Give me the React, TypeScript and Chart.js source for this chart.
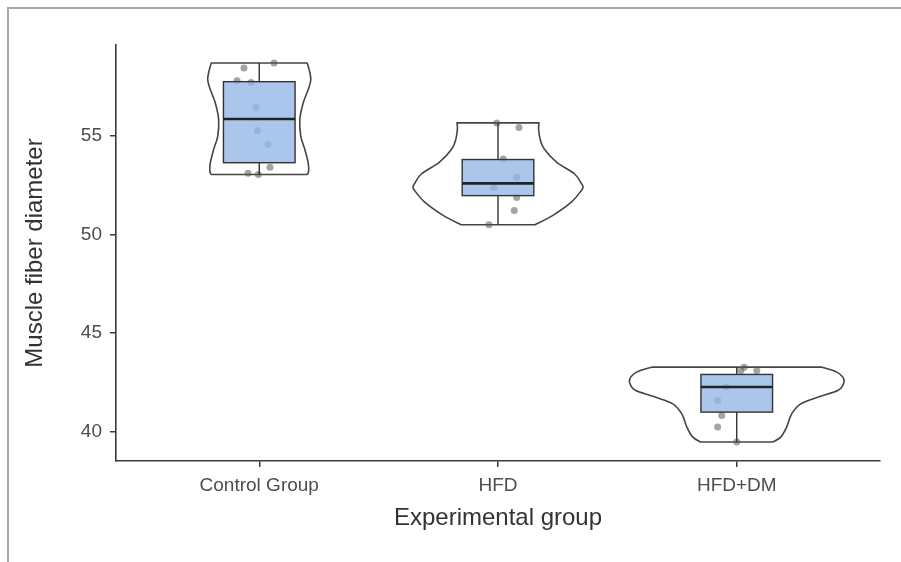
import { useEffect, useRef } from "react";
import { Chart, registerables } from "chart.js";

Chart.register(...registerables);

const groups = ["Control Group", "HFD", "HFD+DM"];
const yTicks = [40, 45, 50, 55];

// Individual measurements per group and their horizontal jitter (category units)
const controlValues = [58.69, 58.43, 57.79, 57.7, 56.44, 55.25, 54.55, 53.4, 53.1, 53.03];
const controlJitter = [0.062, -0.064, -0.093, -0.034, -0.013, -0.008, 0.037, 0.045, -0.047, -0.004];
const hfdValues = [55.65, 55.42, 53.82, 52.89, 52.38, 51.87, 51.2, 50.48];
const hfdJitter = [-0.005, 0.088, 0.022, 0.078, -0.017, 0.078, 0.068, -0.038];
const hfdDmValues = [43.26, 43.09, 43.09, 42.25, 41.57, 40.81, 40.22, 39.46];
const hfdDmJitter = [0.031, 0.017, 0.084, -0.045, -0.08, -0.063, -0.08, 0.0];

// Box summaries: lower whisker, Q1, median, Q3, upper whisker
const whiskerLow = [53.03, 50.48, 39.46];
const quartile1 = [53.63, 51.96, 40.98];
const medians = [55.85, 52.58, 42.25];
const quartile3 = [57.74, 53.79, 42.89];
const whiskerHigh = [58.69, 55.65, 43.26];

// Violin outlines: heights (top to bottom) and half-widths in category units
const controlViolinY = [58.69, 58.35, 57.85, 57.34, 56.66, 55.82, 54.97, 54.3, 53.62, 53.2, 53.03];
const controlViolinW = [0.201, 0.209, 0.216, 0.205, 0.184, 0.17, 0.174, 0.191, 0.205, 0.207, 0.201];
const hfdViolinY = [55.65, 55.35, 54.85, 54.34, 53.66, 53.07, 52.56, 52.4, 52.23, 51.63, 50.96, 50.48];
const hfdViolinW = [0.172, 0.17, 0.176, 0.193, 0.245, 0.32, 0.35, 0.356, 0.35, 0.307, 0.23, 0.155];
const hfdDmViolinY = [43.26, 43.01, 42.67, 42.33, 42.08, 41.77, 41.4, 40.89, 40.22, 39.71, 39.46];
const hfdDmViolinW = [0.356, 0.419, 0.448, 0.444, 0.423, 0.348, 0.268, 0.23, 0.209, 0.184, 0.151];

const violins = [
  { y: controlViolinY, w: controlViolinW },
  { y: hfdViolinY, w: hfdViolinW },
  { y: hfdDmViolinY, w: hfdDmViolinW },
];

const BOX_HALF = 0.15;
const FONT = "'Liberation Sans', Arial, sans-serif";

type Pt = { x: number; y: number };

// Smooth Catmull-Rom curve through pixel points (assumes the pen is at pts[0])
function splineThrough(ctx: CanvasRenderingContext2D, pts: Pt[]) {
  for (let i = 0; i < pts.length - 1; i++) {
    const p0 = pts[Math.max(i - 1, 0)];
    const p1 = pts[i];
    const p2 = pts[i + 1];
    const p3 = pts[Math.min(i + 2, pts.length - 1)];
    ctx.bezierCurveTo(
      p1.x + (p2.x - p0.x) / 6,
      p1.y + (p2.y - p0.y) / 6,
      p2.x - (p3.x - p1.x) / 6,
      p2.y - (p3.y - p1.y) / 6,
      p2.x,
      p2.y
    );
  }
}

const framePlugin = {
  id: "frame",
  beforeDraw(chart: any) {
    const ctx = chart.ctx as CanvasRenderingContext2D;
    ctx.save();
    ctx.strokeStyle = "#a9a9a9";
    ctx.lineWidth = 2;
    ctx.beginPath();
    ctx.moveTo(8, 562);
    ctx.lineTo(8, 8);
    ctx.lineTo(901, 8);
    ctx.stroke();
    ctx.restore();
  },
};

const violinPlugin = {
  id: "violins",
  beforeDatasetsDraw(chart: any) {
    const ctx = chart.ctx as CanvasRenderingContext2D;
    const xs = chart.scales.x;
    const ys = chart.scales.y;
    ctx.save();
    ctx.strokeStyle = "#454545";
    ctx.lineWidth = 1.6;
    ctx.lineJoin = "round";
    violins.forEach((v, i) => {
      const right: Pt[] = v.y.map((val, k) => ({
        x: xs.getPixelForValue(i + v.w[k]),
        y: ys.getPixelForValue(val),
      }));
      const left: Pt[] = v.y
        .map((val, k) => ({ x: xs.getPixelForValue(i - v.w[k]), y: ys.getPixelForValue(val) }))
        .reverse();
      ctx.beginPath();
      ctx.moveTo(left[left.length - 1].x, left[left.length - 1].y);
      ctx.lineTo(right[0].x, right[0].y);
      splineThrough(ctx, right);
      ctx.lineTo(left[0].x, left[0].y);
      splineThrough(ctx, left);
      ctx.closePath();
      ctx.stroke();
    });
    ctx.restore();
  },
  afterDatasetsDraw(chart: any) {
    const ctx = chart.ctx as CanvasRenderingContext2D;
    const xs = chart.scales.x;
    const ys = chart.scales.y;
    ctx.save();
    groups.forEach((_, i) => {
      const cx = xs.getPixelForValue(i);
      const x0 = xs.getPixelForValue(i - BOX_HALF);
      const x1 = xs.getPixelForValue(i + BOX_HALF);
      const yLo = ys.getPixelForValue(whiskerLow[i]);
      const yQ1 = ys.getPixelForValue(quartile1[i]);
      const yMed = ys.getPixelForValue(medians[i]);
      const yQ3 = ys.getPixelForValue(quartile3[i]);
      const yHi = ys.getPixelForValue(whiskerHigh[i]);

      ctx.strokeStyle = "#333333";
      ctx.lineWidth = 1.4;
      ctx.beginPath();
      ctx.moveTo(cx, yQ3);
      ctx.lineTo(cx, yHi);
      ctx.moveTo(cx, yQ1);
      ctx.lineTo(cx, yLo);
      ctx.stroke();

      ctx.fillStyle = "rgba(149,185,230,0.8)";
      ctx.fillRect(x0, yQ3, x1 - x0, yQ1 - yQ3);
      ctx.strokeRect(x0, yQ3, x1 - x0, yQ1 - yQ3);

      ctx.strokeStyle = "#222222";
      ctx.lineWidth = 2.6;
      ctx.beginPath();
      ctx.moveTo(x0, yMed);
      ctx.lineTo(x1, yMed);
      ctx.stroke();
    });
    ctx.restore();
  },
};

export default function App() {
  const canvasRef = useRef<HTMLCanvasElement | null>(null);

  useEffect(() => {
    if (!canvasRef.current) return;
    const points = [
      ...controlValues.map((v, k) => ({ x: 0 + controlJitter[k], y: v })),
      ...hfdValues.map((v, k) => ({ x: 1 + hfdJitter[k], y: v })),
      ...hfdDmValues.map((v, k) => ({ x: 2 + hfdDmJitter[k], y: v })),
    ];

    const chart = new Chart(canvasRef.current, {
      type: "scatter",
      data: {
        datasets: [
          {
            data: points,
            pointRadius: 3.5,
            pointBackgroundColor: "rgba(90,90,90,0.55)",
            pointBorderWidth: 0,
            pointHoverRadius: 3.5,
          },
        ],
      },
      plugins: [framePlugin, violinPlugin],
      options: {
        responsive: false,
        animation: false,
        events: [],
        layout: { padding: { top: 45, right: 21, bottom: 0, left: 0 } },
        plugins: { legend: { display: false }, tooltip: { enabled: false } },
        scales: {
          x: {
            type: "linear",
            min: -0.6,
            max: 2.6,
            afterBuildTicks: (scale: any) => {
              scale.ticks = groups.map((_, i) => ({ value: i }));
            },
            afterFit: (scale: any) => {
              scale.height = 101;
            },
            ticks: {
              callback: (value: any) => groups[Number(value)] ?? "",
              font: { family: FONT, size: 19 },
              color: "#4d4d4d",
              padding: 7,
              maxRotation: 0,
              autoSkip: false,
            },
            grid: { drawOnChartArea: false, drawTicks: true, tickLength: 6, color: "#3a3a3a", lineWidth: 1.5 },
            border: { display: true, color: "#3a3a3a", width: 1.6 },
            title: {
              display: true,
              text: "Experimental group",
              font: { family: FONT, size: 24 },
              color: "#333333",
              padding: { top: 0, bottom: 29 },
            },
          },
          y: {
            type: "linear",
            min: 38.5,
            max: 59.6,
            afterBuildTicks: (scale: any) => {
              scale.ticks = yTicks.map((v) => ({ value: v }));
            },
            afterFit: (scale: any) => {
              scale.width = 116;
            },
            ticks: {
              font: { family: FONT, size: 19 },
              color: "#4d4d4d",
              padding: 8,
            },
            grid: { drawOnChartArea: false, drawTicks: true, tickLength: 6, color: "#3a3a3a", lineWidth: 1.5 },
            border: { display: true, color: "#3a3a3a", width: 1.6 },
            title: {
              display: true,
              text: "Muscle fiber diameter",
              font: { family: FONT, size: 24 },
              color: "#333333",
              padding: { top: 21, bottom: 0 },
            },
          },
        },
      },
    });
    return () => chart.destroy();
  }, []);

  return (
    <div style={{ position: "fixed", left: 0, top: 0, width: 901, height: 562, background: "#fff" }}>
      <canvas ref={canvasRef} width={901} height={562} />
    </div>
  );
}
